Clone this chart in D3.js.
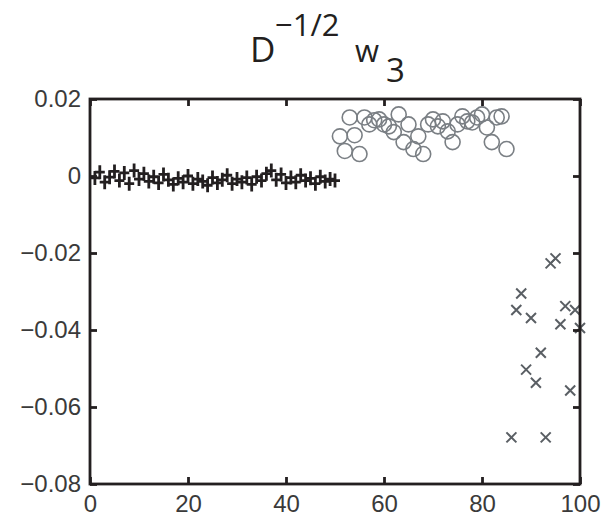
<!DOCTYPE html>
<html>
<head>
<meta charset="utf-8">
<script src="https://cdn.jsdelivr.net/npm/d3@7"></script>
<style>
  body { margin: 0; background: #fff; }
  .tick text { font-family: "Liberation Sans", Arial, sans-serif; font-size: 24px; fill: #3a3a3a; }
  .title { font-family: "Open Sans", "DejaVu Sans", sans-serif; fill: #231f20; }
</style>
</head>
<body>
<svg id="chart" width="603" height="519"></svg>
<script>
// group 1: indices 1..50 (plus markers)
var plusVals = [-0.0005, 0.0010, -0.0016, -0.0003, 0.0012, -0.0012, 0.0008, -0.0020, 0.0014, -0.0008,
  0.0006, -0.0014, -0.0002, -0.0018, 0.0004, -0.0010, -0.0022, -0.0006, -0.0016, 0.0000,
  -0.0020, -0.0008, -0.0014, -0.0024, -0.0004, -0.0018, -0.0010, 0.0002, -0.0020, -0.0008,
  -0.0016, -0.0004, -0.0022, -0.0002, -0.0012, 0.0006, 0.0014, -0.0010, 0.0004, -0.0018,
  -0.0004, -0.0016, 0.0002, -0.0012, -0.0006, -0.0020, -0.0002, -0.0014, -0.0008, -0.0012];
// group 2: indices 51..85 (circles)
var circleVals = [0.0103, 0.0065, 0.0152, 0.0106, 0.0057, 0.0152, 0.0134, 0.0145, 0.0147, 0.0134,
  0.0129, 0.0114, 0.0160, 0.0088, 0.0134, 0.0070, 0.0103, 0.0057, 0.0134, 0.0147,
  0.0129, 0.0142, 0.0116, 0.0088, 0.0134, 0.0155, 0.0142, 0.0139, 0.0152, 0.0160,
  0.0126, 0.0088, 0.0152, 0.0155, 0.0070];
// group 3: indices 86..100 (x markers)
var crossVals = [-0.0679, -0.0348, -0.0305, -0.0503, -0.0369, -0.0537, -0.0459, -0.0679, -0.0227, -0.0214,
  -0.0385, -0.0338, -0.0557, -0.0348, -0.0395];

var xTicks = [0, 20, 40, 60, 80, 100];
var yTicks = [0.02, 0, -0.02, -0.04, -0.06, -0.08];

var svg = d3.select("#chart");
var mLeft = 90, mRight = 580, mTop = 99, mBottom = 484;

var x = d3.scaleLinear().domain([0, 100]).range([mLeft, mRight]);
var y = d3.scaleLinear().domain([-0.08, 0.02]).range([mBottom, mTop]);

function fmt(d) {
  if (d === 0) return "0";
  var s = d3.format(".2f")(Math.abs(d));
  return (d < 0 ? "\u2212" : "") + s;
}

// points
var plusData = plusVals.map(function(v, i) { return { i: i + 1, v: v }; });
var circData = circleVals.map(function(v, i) { return { i: i + 51, v: v }; });
var crossData = crossVals.map(function(v, i) { return { i: i + 86, v: v }; });

svg.append("g").selectAll("circle")
  .data(circData).enter().append("circle")
  .attr("cx", function(d) { return x(d.i); })
  .attr("cy", function(d) { return y(d.v); })
  .attr("r", 7.5)
  .attr("fill", "none")
  .attr("stroke", "#7a7f84")
  .attr("stroke-width", 1.6);

var cs = 5;
svg.append("g").selectAll("path")
  .data(crossData).enter().append("path")
  .attr("d", function(d) {
    var cx = x(d.i), cy = y(d.v);
    return "M" + (cx - cs) + "," + (cy - cs) + "L" + (cx + cs) + "," + (cy + cs) +
      "M" + (cx - cs) + "," + (cy + cs) + "L" + (cx + cs) + "," + (cy - cs);
  })
  .attr("stroke", "#5a5f64")
  .attr("stroke-width", 2)
  .attr("fill", "none");

var ph = 7, pw = 5;
svg.append("g").selectAll("path")
  .data(plusData).enter().append("path")
  .attr("d", function(d) {
    var cx = x(d.i), cy = y(d.v);
    return "M" + (cx - pw) + "," + cy + "L" + (cx + pw) + "," + cy +
      "M" + cx + "," + (cy - ph) + "L" + cx + "," + (cy + ph);
  })
  .attr("stroke", "#231f20")
  .attr("stroke-width", 2.8)
  .attr("fill", "none");

// axes with inward ticks on all sides
var tl = 7;
var gx = svg.append("g").attr("transform", "translate(0," + mBottom + ")")
  .call(d3.axisBottom(x).tickValues(xTicks).tickSizeInner(-tl).tickSizeOuter(0).tickPadding(11));
var gy = svg.append("g").attr("transform", "translate(" + mLeft + ",0)")
  .call(d3.axisLeft(y).tickValues(yTicks).tickFormat(fmt).tickSizeInner(-tl).tickSizeOuter(0).tickPadding(9));
var gt = svg.append("g").attr("transform", "translate(0," + mTop + ")")
  .call(d3.axisTop(x).tickValues(xTicks).tickFormat("").tickSizeInner(-tl).tickSizeOuter(0));
var gr = svg.append("g").attr("transform", "translate(" + mRight + ",0)")
  .call(d3.axisRight(y).tickValues(yTicks).tickFormat("").tickSizeInner(-tl).tickSizeOuter(0));

[gx, gy, gt, gr].forEach(function(g) {
  g.select(".domain").remove();
  g.selectAll(".tick line").attr("stroke", "#231f20").attr("stroke-width", 2.8);
});

svg.append("rect")
  .attr("x", mLeft).attr("y", mTop)
  .attr("width", mRight - mLeft).attr("height", mBottom - mTop)
  .attr("fill", "none")
  .attr("stroke", "#231f20")
  .attr("stroke-width", 2.8);

// title: D^{-1/2} w_3
svg.append("text").attr("class", "title").attr("x", 250).attr("y", 62)
  .attr("font-size", 35).text("D");
svg.append("text").attr("class", "title").attr("x", 275).attr("y", 36)
  .attr("font-size", 31).text("\u22121/2");
svg.append("text").attr("class", "title").attr("x", 355).attr("y", 62)
  .attr("font-size", 31).text("w");
svg.append("text").attr("class", "title").attr("x", 386).attr("y", 82)
  .attr("font-size", 33).text("3");
</script>
</body>
</html>
